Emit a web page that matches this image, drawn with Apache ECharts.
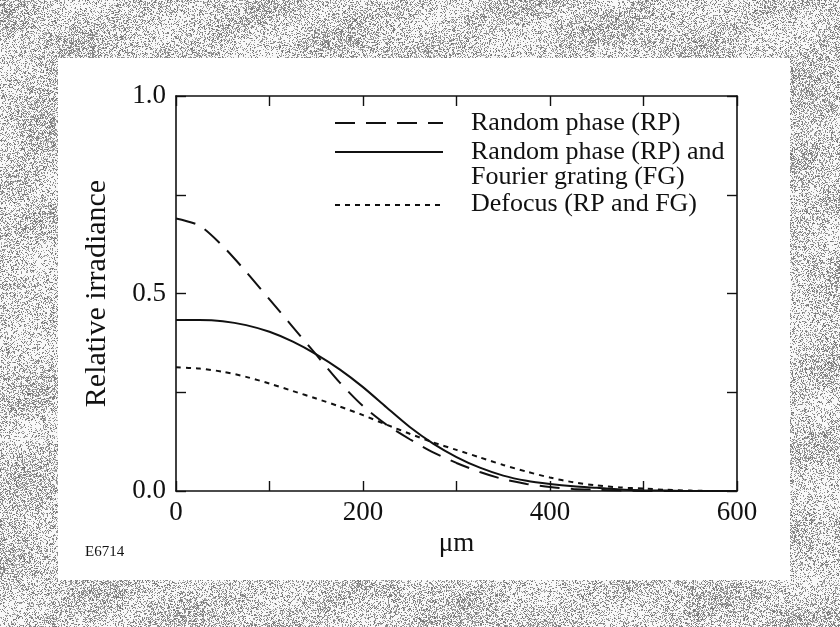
<!DOCTYPE html>
<html>
<head>
<meta charset="utf-8">
<script src="https://cdn.jsdelivr.net/npm/echarts@6/dist/echarts.min.js"></script>
<style>
  html, body { margin: 0; padding: 0; background: #fff; }
  #frame { position: absolute; left: 0; top: 0; width: 840px; height: 627px; }
  #sheet { position: absolute; left: 58px; top: 58px; width: 732px; height: 522px; background: #fff; }
  #chart { position: absolute; left: 0; top: 0; width: 840px; height: 627px; }
</style>
</head>
<body>
<canvas id="frame" width="840" height="627"></canvas>
<div id="sheet"></div>
<div id="chart"></div>
<script>
// Radial position across the focal spot, in micrometres
const positions = [0, 25, 50, 75, 100, 125, 150, 175, 200, 225, 250, 275, 300,
                   325, 350, 375, 400, 425, 450, 475, 500, 525, 550, 575, 600];

// Relative irradiance for each smoothing scheme
const randomPhase = [0.690, 0.672, 0.620, 0.555, 0.485, 0.415, 0.345, 0.275, 0.215,
                     0.168, 0.131, 0.098, 0.071, 0.048, 0.030, 0.018, 0.010, 0.005,
                     0.003, 0.001, 0.000, 0.000, 0.000, 0.000, 0.000];
const rpWithGrating = [0.433, 0.433, 0.430, 0.420, 0.403, 0.378, 0.346, 0.308, 0.263,
                       0.212, 0.162, 0.120, 0.086, 0.059, 0.039, 0.026, 0.018, 0.012,
                       0.008, 0.004, 0.002, 0.001, 0.000, 0.000, 0.000];
const defocus = [0.313, 0.310, 0.302, 0.289, 0.272, 0.253, 0.234, 0.214, 0.192,
                 0.168, 0.145, 0.123, 0.104, 0.085, 0.066, 0.049, 0.034, 0.022,
                 0.014, 0.009, 0.006, 0.003, 0.001, 0.000, 0.000];

const seriesNames = ['Random phase (RP)', 'Random phase (RP) and\nFourier grating (FG)', 'Defocus (RP and FG)'];
const xTickLabels = ['0', '200', '400', '600'];
const yTickLabels = ['0.0', '0.5', '1.0'];

// Halftone-like grey surround of the printed sheet (deterministic dither)
(function drawFrame() {
  const cv = document.getElementById('frame');
  const ctx = cv.getContext('2d');
  const img = ctx.createImageData(840, 627);
  function hash(x, y) {
    let h = (x * 374761393 + y * 668265263) >>> 0;
    h = ((h ^ (h >>> 13)) * 1274126177) >>> 0;
    return ((h ^ (h >>> 16)) >>> 0) / 4294967295;
  }
  for (let y = 0; y < 627; y++) {
    for (let x = 0; x < 840; x++) {
      const blotch = 0.5 + 0.25 * Math.sin((x + y) * 0.05 + Math.sin(y * 0.03) * 2.0)
                         + 0.2 * Math.sin(y * 0.07 - x * 0.021);
      const density = 0.2 + 0.34 * blotch;
      const on = hash(x, y) < density;
      const v = on ? 110 + Math.floor(hash(y, x) * 70) : 248;
      const i = (y * 840 + x) * 4;
      img.data[i] = v; img.data[i + 1] = v; img.data[i + 2] = v; img.data[i + 3] = 255;
    }
  }
  ctx.putImageData(img, 0, 0);
})();

const font = 'Liberation Serif';
const ink = '#111';
const dashLong = [20, 11];
const dashShort = [5, 5];

const chart = echarts.init(document.getElementById('chart'), null, { renderer: 'canvas' });

const axisCommon = {
  axisLine: { show: true, onZero: false, lineStyle: { color: ink, width: 1.6 } },
  axisTick: { show: true, inside: true, length: 10, lineStyle: { color: ink, width: 1.4 } },
  minorTick: { show: true, splitNumber: 2, length: 10, lineStyle: { color: ink, width: 1.4 } },
  splitLine: { show: false }
};

const lineCommon = { type: 'line', smooth: 0.25, symbol: 'none' };

chart.setOption({
  backgroundColor: 'transparent',
  animation: false,
  grid: { left: 176, right: 103, top: 96, bottom: 136 },
  xAxis: [
    Object.assign({
      type: 'value', min: 0, max: 600, interval: 200, position: 'bottom',
      name: 'μm', nameLocation: 'middle', nameGap: 32,
      nameTextStyle: { fontFamily: font, fontSize: 27, color: ink },
      axisLabel: {
        margin: 8, fontFamily: font, fontSize: 27, color: ink,
        formatter: v => xTickLabels[Math.round(v / 200)]
      }
    }, axisCommon),
    Object.assign({
      type: 'value', min: 0, max: 600, interval: 200, position: 'top',
      axisLabel: { show: false }
    }, axisCommon)
  ],
  yAxis: [
    Object.assign({
      type: 'value', min: 0, max: 1, interval: 0.5, position: 'left',
      name: 'Relative irradiance', nameLocation: 'middle', nameGap: 64,
      nameTextStyle: { fontFamily: font, fontSize: 30, color: ink },
      axisLabel: {
        margin: 10, fontFamily: font, fontSize: 27, color: ink,
        formatter: v => yTickLabels[Math.round(v / 0.5)]
      }
    }, axisCommon),
    Object.assign({
      type: 'value', min: 0, max: 1, interval: 0.5, position: 'right',
      axisLabel: { show: false }
    }, axisCommon)
  ],
  series: [
    Object.assign({
      name: seriesNames[0],
      data: positions.map((p, i) => [p, randomPhase[i]]),
      lineStyle: { color: ink, width: 2, type: dashLong }
    }, lineCommon),
    Object.assign({
      name: seriesNames[1],
      data: positions.map((p, i) => [p, rpWithGrating[i]]),
      lineStyle: { color: ink, width: 2, type: 'solid' }
    }, lineCommon),
    Object.assign({
      name: seriesNames[2],
      data: positions.map((p, i) => [p, defocus[i]]),
      lineStyle: { color: ink, width: 2, type: dashShort }
    }, lineCommon)
  ],
  graphic: [
    // Key: line samples
    { type: 'line', shape: { x1: 335, y1: 123, x2: 443, y2: 123 },
      style: { stroke: ink, lineWidth: 2, lineDash: dashLong } },
    { type: 'line', shape: { x1: 335, y1: 152, x2: 443, y2: 152 },
      style: { stroke: ink, lineWidth: 2 } },
    { type: 'line', shape: { x1: 335, y1: 205, x2: 443, y2: 205 },
      style: { stroke: ink, lineWidth: 2, lineDash: dashShort } },
    // Key: labels
    { type: 'text', left: 471, top: 110,
      style: { text: seriesNames[0], font: '26px "Liberation Serif"', fill: ink } },
    { type: 'text', left: 471, top: 139,
      style: { text: seriesNames[1], font: '26px "Liberation Serif"', fill: ink, lineHeight: 25 } },
    { type: 'text', left: 471, top: 191,
      style: { text: seriesNames[2], font: '26px "Liberation Serif"', fill: ink } },
    // Figure code
    { type: 'text', left: 85, top: 545,
      style: { text: 'E6714', font: '15px "Liberation Serif"', fill: ink } }
  ]
});
</script>
</body>
</html>
